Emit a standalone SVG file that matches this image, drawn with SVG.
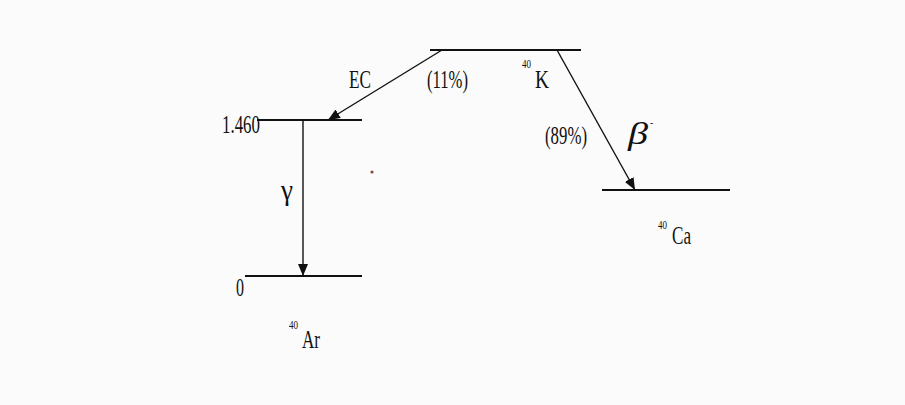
<svg xmlns="http://www.w3.org/2000/svg" width="905" height="405" viewBox="0 0 905 405">
<defs>
<marker id="ah" viewBox="0 0 12 10" refX="12" refY="5" markerWidth="12" markerHeight="10" markerUnits="userSpaceOnUse" orient="auto">
<path d="M0,0 L12,5 L0,10 z" fill="#111"/>
</marker>
</defs>
<style>
.lvl{stroke:#111;stroke-width:2.2;fill:none}
.arr{stroke:#111;stroke-width:1.4;fill:none}
text{font-family:"Liberation Serif","Times New Roman",serif;fill:#111;font-size:26px}
.sup{font-size:13px}
.gr{font-style:italic;font-size:32px}
</style>
<rect width="905" height="405" fill="#fbfbfb"/>
<g id="K40">
<line class="lvl" x1="430" y1="50" x2="581" y2="50"/>
<text class="sup" x="522" y="68" textLength="9" lengthAdjust="spacingAndGlyphs">40</text>
<text x="535" y="88" textLength="14" lengthAdjust="spacingAndGlyphs">K</text>
</g>
<g id="Ar1460">
<line class="lvl" x1="257" y1="120" x2="362" y2="120"/>
<text x="222" y="133" textLength="38" lengthAdjust="spacingAndGlyphs">1.460</text>
</g>
<g id="Ar0">
<line class="lvl" x1="245" y1="276" x2="362" y2="276"/>
<text x="236" y="296" textLength="8" lengthAdjust="spacingAndGlyphs">0</text>
<text class="sup" x="289" y="329" textLength="9" lengthAdjust="spacingAndGlyphs">40</text>
<text x="302" y="348" textLength="18" lengthAdjust="spacingAndGlyphs">Ar</text>
</g>
<g id="Ca40">
<line class="lvl" x1="602" y1="190" x2="730" y2="190"/>
<text class="sup" x="658" y="229" textLength="9" lengthAdjust="spacingAndGlyphs">40</text>
<text x="672" y="244" textLength="19" lengthAdjust="spacingAndGlyphs">Ca</text>
</g>
<g id="connectors">
<line class="arr" x1="442" y1="50" x2="328" y2="120" marker-end="url(#ah)"/>
<line class="arr" x1="303" y1="120" x2="303" y2="276" marker-end="url(#ah)"/>
<line class="arr" x1="557" y1="50" x2="635" y2="190" marker-end="url(#ah)"/>
<text x="349" y="88" textLength="22" lengthAdjust="spacingAndGlyphs">EC</text>
<text x="427" y="88" textLength="41" lengthAdjust="spacingAndGlyphs">(11%)</text>
<text x="545" y="144" textLength="42" lengthAdjust="spacingAndGlyphs">(89%)</text>
<text x="281" y="200" textLength="12" lengthAdjust="spacingAndGlyphs" style="font-size:30px">γ</text>
<text class="gr" x="628" y="144" textLength="20" lengthAdjust="spacingAndGlyphs">β</text>
<text class="sup" x="650" y="126" style="font-size:10px">-</text>
</g>
<circle cx="372" cy="172" r="1.6" fill="#8a4a3a"/>
</svg>
